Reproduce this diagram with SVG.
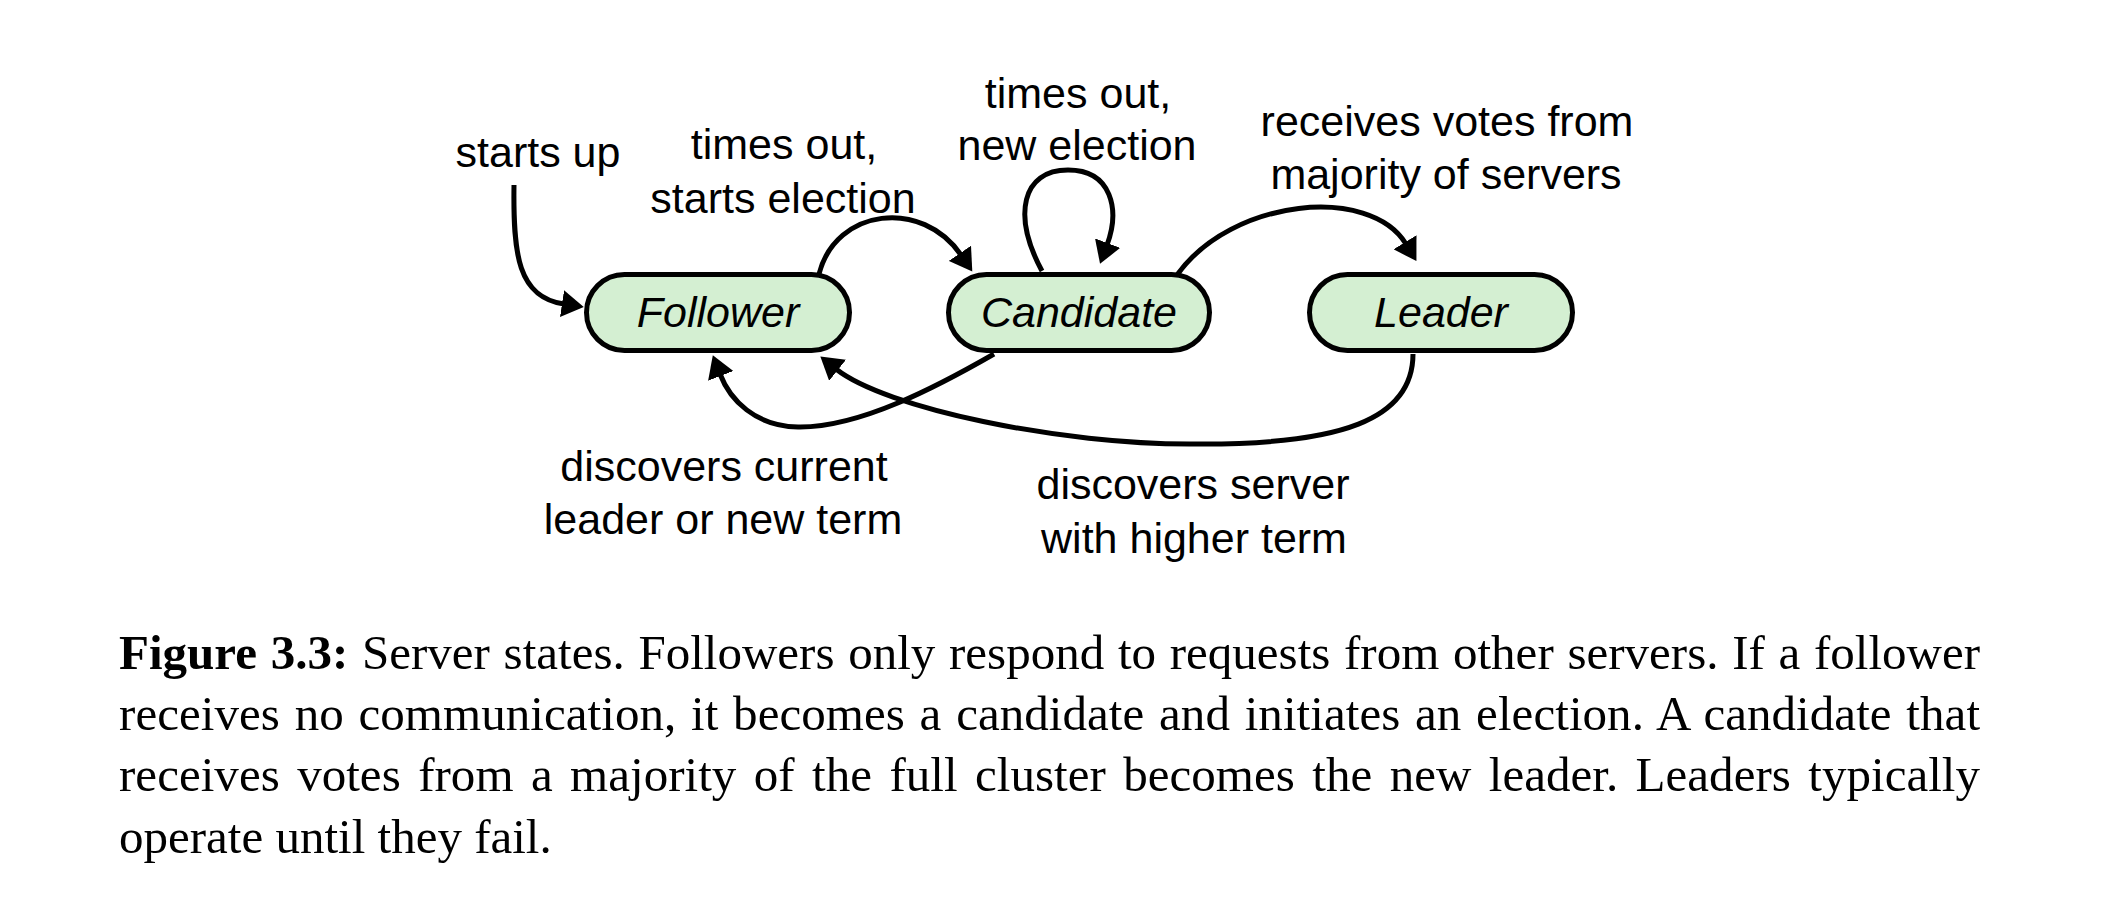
<svg xmlns="http://www.w3.org/2000/svg" width="2118" height="908" viewBox="0 0 2118 908">
  <style>
    .node rect { fill: #d4efd2; stroke: #000; stroke-width: 5; }
    .node text { font-family: "Liberation Sans", Arial, Helvetica, sans-serif; font-size: 43px; font-style: italic; text-anchor: middle; fill: #000; }
    .lbl { font-family: "Liberation Sans", Arial, Helvetica, sans-serif; font-size: 43px; text-anchor: middle; fill: #000; }
    .edge { fill: none; stroke: #000; stroke-width: 5; marker-end: url(#arrow); }
    .cap { font-family: "Liberation Serif", "Times New Roman", Times, serif; font-size: 49px; fill: #000; }
    .cap .b { font-weight: bold; }
  </style>
  <defs>
    <marker id="arrow" markerUnits="userSpaceOnUse" markerWidth="23" markerHeight="27" refX="2" refY="13.5" orient="auto">
      <path d="M0,0 L22,13.5 L0,27 z" fill="#000"/>
    </marker>
  </defs>
  <rect width="2118" height="908" fill="#fff"/>

  <g id="edges">
    <path class="edge" d="M 514 185 C 513 255, 518 297, 564 304"/>
    <path class="edge" d="M 819 274 C 836 208, 922 198, 961 255"/>
    <path class="edge" d="M 1042 271 C 1012 215, 1022 170, 1068 170 C 1112 170, 1120 210, 1107 245"/>
    <path class="edge" d="M 1177 275 C 1232 198, 1370 185, 1406 244"/>
    <path class="edge" d="M 994 354 C 940 385, 860 428, 798 427 C 755 426, 730 400, 720 374"/>
    <path class="edge" d="M 1413 354 C 1413 420, 1340 445, 1195 444 C 1060 445, 885 408, 836 369"/>
  </g>

  <g id="labels">
    <text class="lbl" x="538" y="167">starts up</text>
    <text class="lbl" x="784" y="159">times out,</text>
    <text class="lbl" x="783" y="213">starts election</text>
    <text class="lbl" x="1078" y="108">times out,</text>
    <text class="lbl" x="1077" y="160">new election</text>
    <text class="lbl" x="1447" y="136">receives votes from</text>
    <text class="lbl" x="1446" y="189">majority of servers</text>
    <text class="lbl" x="724" y="481">discovers current</text>
    <text class="lbl" x="723" y="534">leader or new term</text>
    <text class="lbl" x="1193" y="499">discovers server</text>
    <text class="lbl" x="1194" y="553">with higher term</text>
  </g>

  <g id="follower" class="node">
    <rect x="586.5" y="274.5" width="263" height="76" rx="38" ry="38"/>
    <text x="718" y="327">Follower</text>
  </g>
  <g id="candidate" class="node">
    <rect x="948.5" y="274.5" width="261" height="76" rx="38" ry="38"/>
    <text x="1079" y="327">Candidate</text>
  </g>
  <g id="leader" class="node">
    <rect x="1309.5" y="274.5" width="263" height="76" rx="38" ry="38"/>
    <text x="1441" y="327">Leader</text>
  </g>

  <g id="caption" class="cap">
    <text x="119" y="669" textLength="1861" lengthAdjust="spacing" word-spacing="1.4"><tspan class="b">Figure 3.3:</tspan> Server states. Followers only respond to requests from other servers. If a follower</text>
    <text x="119" y="730" textLength="1861" lengthAdjust="spacing" word-spacing="2.4">receives no communication, it becomes a candidate and initiates an election. A candidate that</text>
    <text x="119" y="791" textLength="1861" lengthAdjust="spacing" word-spacing="5.1">receives votes from a majority of the full cluster becomes the new leader. Leaders typically</text>
    <text x="119" y="853">operate until they fail.</text>
  </g>
</svg>
